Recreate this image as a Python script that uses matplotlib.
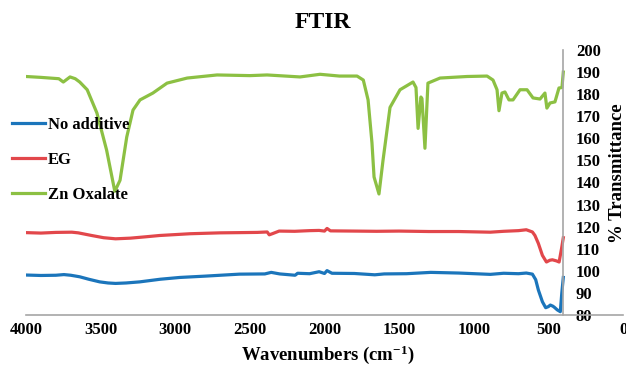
import matplotlib
matplotlib.use("Agg")
import matplotlib.pyplot as plt

plt.rcParams['font.family'] = ['Liberation Serif', 'DejaVu Serif']
plt.rcParams['font.weight'] = 'bold'
plt.rcParams['mathtext.fontset'] = 'custom'
plt.rcParams['mathtext.rm'] = 'Liberation Serif:bold'
plt.rcParams['mathtext.it'] = 'Liberation Serif:bold:italic'
plt.rcParams['mathtext.bf'] = 'Liberation Serif:bold'

# ---- data ----
no_add_wn = [4000, 3900, 3800, 3746, 3700, 3640, 3580, 3506, 3450, 3400, 3330, 3238, 3100, 2970,
             2800, 2570, 2400, 2357, 2300, 2197, 2180, 2100, 2036, 2000, 1983, 1950, 1800,
             1663, 1600, 1450, 1288, 1100, 889, 800, 700, 648, 607, 585, 567, 540, 518,
             500, 487, 470, 460, 440, 420, 410, 400]
no_add_t = [98.1, 97.9, 98.0, 98.3, 98.0, 97.3, 96.2, 95.0, 94.5, 94.3, 94.5, 95.0, 96.2, 97.0,
            97.6, 98.5, 98.6, 99.3, 98.6, 98.0, 98.9, 98.7, 99.6, 98.8, 100.1, 98.9, 98.8,
            98.2, 98.6, 98.7, 99.3, 99.0, 98.4, 98.9, 98.7, 99.0, 98.5, 96.0, 91.3, 86.0, 83.3,
            83.8, 84.5, 84.0, 83.5, 82.3, 81.5, 90.0, 97.0]

eg_wn = [4000, 3900, 3800, 3693, 3650, 3560, 3480, 3400, 3300, 3200, 3105, 2900, 2700, 2570,
         2450, 2384, 2370, 2350, 2304, 2200, 2100, 2036, 2000, 1983, 1960, 1800, 1650,
         1500, 1300, 1100, 889, 800, 700, 648, 607, 590, 567, 540, 513, 490, 473, 446,
         428, 412, 400]
eg_t = [117.3, 117.1, 117.4, 117.5, 117.2, 116.0, 115.0, 114.5, 114.8, 115.4, 116.0, 116.8, 117.2, 117.3,
        117.4, 117.6, 116.3, 116.8, 118.0, 117.9, 118.2, 118.3, 118.0, 119.2, 118.1, 118.0, 117.9,
        118.0, 117.8, 117.8, 117.5, 117.9, 118.2, 118.6, 117.6, 116.0, 112.4, 107.0, 104.0, 104.8, 105.0, 104.5,
        104.0, 110.0, 115.0]

zn_wn = [4000, 3900, 3840, 3780, 3750, 3705, 3670, 3640, 3590, 3525, 3460, 3405, 3370, 3325,
         3283, 3236, 3150, 3055, 2920, 2720, 2500, 2385, 2164, 2030, 1900, 1782, 1740,
         1708, 1682, 1668, 1635, 1608, 1561, 1494, 1407, 1387, 1373, 1354, 1347, 1327,
         1307, 1226, 1045, 911, 871, 844, 831, 811, 791, 764, 737, 690, 643, 603, 556,
         523, 510, 489, 456, 429, 409, 400]
zn_t = [188.0, 187.6, 187.3, 187.0, 185.5, 187.8, 187.0, 185.5, 182.0, 171.5, 154.7, 136.0, 141.0, 160.6,
        172.8, 177.4, 180.5, 185.0, 187.3, 188.7, 188.4, 188.7, 187.8, 189.0, 188.2, 188.2, 186.4,
        177.4, 158.0, 142.5, 134.8, 150.0, 174.0, 182.0, 185.5, 183.0, 164.5, 178.7, 178.0, 155.5,
        185.0, 187.3, 188.0, 188.2, 186.4, 182.0, 172.5, 180.5, 181.0, 177.4, 177.4, 182.0, 182.0, 178.3, 177.8,
        180.5, 173.7, 176.0, 176.5, 182.8, 183.0, 190.0]

series_names = ['No additive', 'EG', 'Zn Oxalate']
series_colors = ['#1B75BB', '#E2474B', '#8CC043']
x_ticks = [4000, 3500, 3000, 2500, 2000, 1500, 1000, 500, 0]
y_ticks = [80, 90, 100, 110, 120, 130, 140, 150, 160, 170, 180, 190, 200]

# ---- figure ----
fig = plt.figure(figsize=(6.26, 3.67), dpi=100)
ax = fig.add_axes([26/626, 1-315/367, 597/626, 265/367])

for wn, t, name, c in zip([no_add_wn, eg_wn, zn_wn], [no_add_t, eg_t, zn_t], series_names, series_colors):
    ax.plot(wn, t, color=c, lw=2.3, label=name, solid_joinstyle='round')

ax.set_xlim(4000, 0)
ax.set_ylim(80, 200)
ax.set_xticks(x_ticks)
ax.set_xticklabels([str(v) for v in x_ticks], fontsize=12, fontweight='bold')
ax.set_yticks(y_ticks)

for s in ['top', 'left']:
    ax.spines[s].set_visible(False)
ax.spines['bottom'].set_color('#A6A6A6')
ax.spines['bottom'].set_linewidth(1.2)
ax.spines['right'].set_position(('data', 400))
ax.spines['right'].set_color('#A6A6A6')
ax.spines['right'].set_linewidth(1.2)
ax.yaxis.tick_right()
ax.tick_params(axis='y', length=0, pad=9, labelsize=12)
ax.tick_params(axis='x', length=0, pad=5, labelsize=12)
for lbl in ax.get_yticklabels():
    lbl.set_fontweight('bold')

fig.text(323/626, 1-23/367, 'FTIR', ha='center', va='center', fontsize=17, fontweight='bold')
fig.text(328/626, 1-355/367, r'Wavenumbers (cm$^{-1}$)', ha='center', va='center',
         fontsize=13.5, fontweight='bold')
fig.text(618/626, 1-173/367, '% Transmittance', ha='center', va='center', rotation=90,
         fontsize=13.5, fontweight='bold')

leg = ax.legend(loc='center left', bbox_to_anchor=(12/626, 1-160/367), bbox_transform=fig.transFigure,
                frameon=False, fontsize=12, handlelength=2.0, handletextpad=0.15,
                labelspacing=1.15, borderpad=0, borderaxespad=0)
for t in leg.get_texts():
    t.set_fontweight('bold')

fig.savefig('out.png', dpi=100)
